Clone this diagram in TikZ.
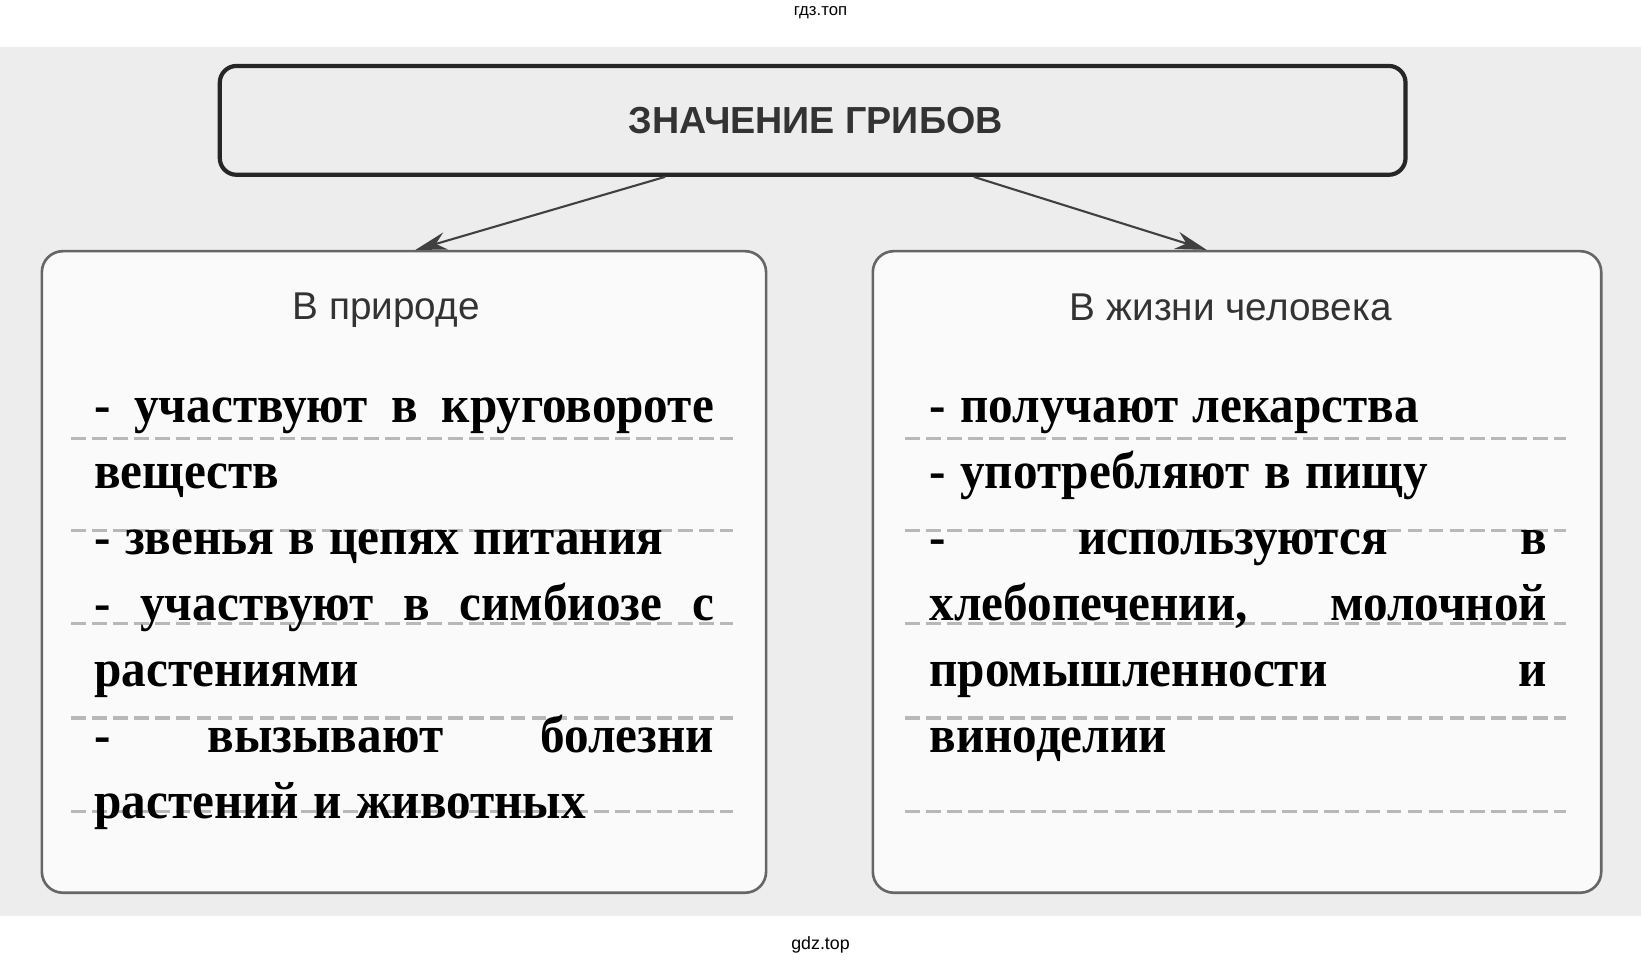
\documentclass[tikz,border=0pt]{standalone}
\usepackage{fontspec}
\setmainfont{Liberation Serif}
\setsansfont{Liberation Sans}
\newfontfamily\answerfont[FakeStretch=0.94]{Liberation Serif Bold}
\usepackage{tikz}
\usetikzlibrary{positioning}
\usetikzlibrary{calc}
\usetikzlibrary{arrows.meta}

\newcommand{\jline}[1]{\leavevmode\hbox to \linewidth{\spaceskip=0.22em plus 1fil\relax #1}}
\newcommand{\tightspaces}{\spaceskip=0.275em\relax}

\tikzset{
	titlebox/.style={draw=black!85, line width=4pt, rounded corners=16pt, inner sep=0pt},
	sidebox/.style={draw=black!60, line width=2.5pt, rounded corners=20pt, fill=white!96!gray, inner sep=0pt},
	headtext/.style={font=\sffamily\fontsize{37}{44}\selectfont, text=black!80, anchor=base},
	answers/.style={text width=#1, align=left, inner sep=0pt, font=\answerfont\fontsize{50}{63}\selectfont},
	ruleline/.style={draw=black!28, line width=3pt, dash pattern=on 14pt off 6pt},
	pointer/.style={draw=black!75, line width=2pt, -{Stealth[length=30pt,width=17pt]}}
}

\begin{document}
\begin{tikzpicture}[x=1pt,y=-1pt]
	\useasboundingbox (0,0) rectangle (1568,922);
	\fill[white] (0,0) rectangle (1568,922);
	\fill[black!7] (0,45) rectangle (1568,875);

	% watermarks
	\node[font=\sffamily\fontsize{16}{19}\selectfont] (wmtop) at (784,12) {гдз.топ};
	\node[font=\sffamily\fontsize{17}{20}\selectfont] (wmbottom) at (784,903) {gdz.top};

	% boxes
	\node[titlebox, minimum width=1133pt, minimum height=104pt,
		font=\sffamily\bfseries\fontsize{36}{42}\selectfont, text=black!80] (title) at (776.5,115) {\hspace*{6pt}ЗНАЧЕНИЕ ГРИБОВ};
	\node[sidebox, minimum width=692pt, minimum height=613pt] (nature) at (386,546.5) {};
	\node[sidebox, minimum width=696pt, minimum height=613pt] (human) at (1182,546.5) {};

	\draw[pointer] ($(title.south)+(-141,0)$) -- ($(nature.north)+(11,0)$);
	\draw[pointer] ($(title.south)+(154,0)$) -- ($(human.north)+(-29,0)$);

	\node[headtext] (naturehead) at (369,305) {В природе};
	\node[headtext] (humanhead) at (1176,306) {В жизни человека};

	% dashed lines
	\foreach \y in {419,507,596,686,775} {
		\draw[ruleline] (68,\y) -- (700,\y);
		\draw[ruleline] (865,\y) -- (1496,\y);
	}

	% answers
	\node[answers=592pt, anchor=base west] (naturetext) at (90,404) {\tightspaces
		\jline{- участвуют в круговороте}\\
		веществ\\
		- звенья в цепях питания\\
		\jline{- участвуют в симбиозе с}\\
		растениями\\
		\jline{- вызывают болезни}\\
		растений и животных};
	\node[answers=590pt, anchor=base west] (humantext) at (888,404) {\tightspaces
		- получают лекарства\\
		- употребляют в пищу\\
		\jline{- используются в}\\
		\jline{хлебопечении, молочной}\\
		\jline{промышленности и}\\
		виноделии};
\end{tikzpicture}
\end{document}
